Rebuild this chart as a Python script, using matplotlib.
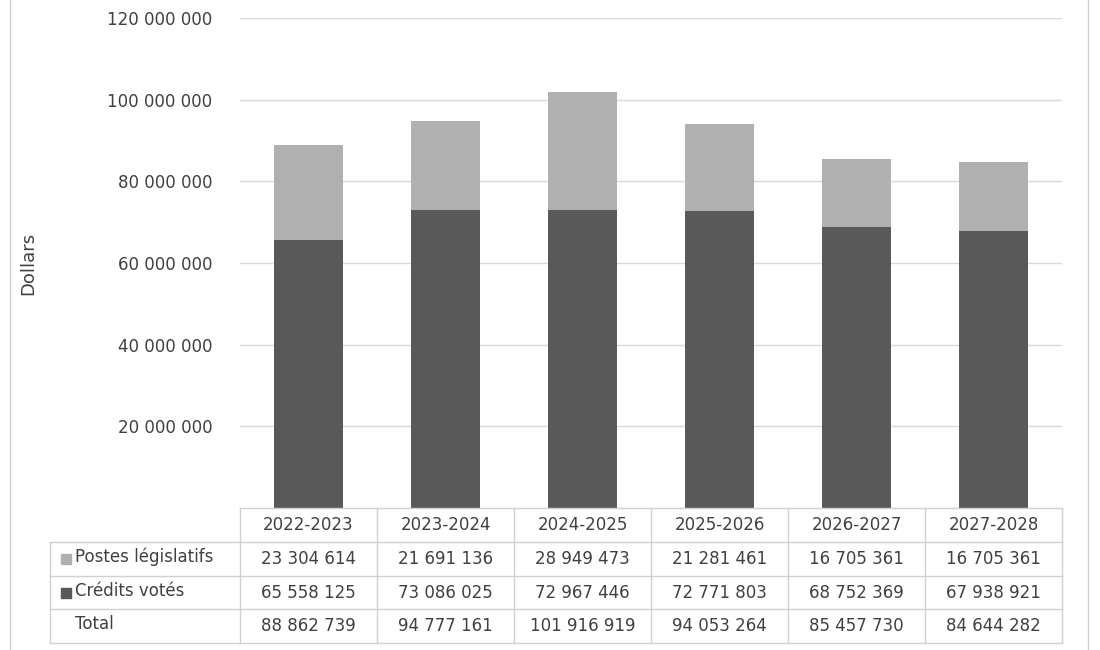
import matplotlib
matplotlib.use("Agg")
import matplotlib.pyplot as plt
from matplotlib.lines import Line2D
from matplotlib.patches import Rectangle
from matplotlib.ticker import FuncFormatter

years = ["2022-2023", "2023-2024", "2024-2025", "2025-2026", "2026-2027", "2027-2028"]
postes = [23304614, 21691136, 28949473, 21281461, 16705361, 16705361]
credits = [65558125, 73086025, 72967446, 72771803, 68752369, 67938921]
totals = [88862739, 94777161, 101916919, 94053264, 85457730, 84644282]

DARK = "#595959"
LIGHT = "#b0b0b0"
W, H = 1100, 650
fig = plt.figure(figsize=(11, 6.5), dpi=100)

def fx(x): return x / W
def fy(y): return 1 - y / H

L, R, T, B = 240, 1062, 18, 508
ax = fig.add_axes([fx(L), fy(B), fx(R) - fx(L), fy(T) - fy(B)])
xs = range(len(years))
ax.bar(xs, credits, width=0.51, color=DARK, zorder=3)
ax.bar(xs, postes, width=0.51, bottom=credits, color=LIGHT, zorder=3)
ax.set_xlim(-0.5, len(years) - 0.5)
ax.set_ylim(0, 120000000)
ax.set_yticks(range(20000000, 120000001, 20000000))
ax.yaxis.set_major_formatter(FuncFormatter(lambda v, p: f"{int(v):,}".replace(",", " ")))
ax.tick_params(axis="y", length=0, labelsize=12, labelcolor="#404040", pad=20)
ax.set_xticks([])
ax.grid(axis="y", color="#d9d9d9", lw=1, zorder=0)
for s in ax.spines.values():
    s.set_visible(False)
ax.set_ylabel("Dollars", fontsize=13, color="#404040", labelpad=50)

# table
rows_y = [508, 542, 576, 609, 643]
colw = (R - L) / 6
lc = "#d0d0d0"
def hline(y, x0, x1):
    fig.add_artist(Line2D([fx(x0), fx(x1)], [fy(y), fy(y)], color=lc, lw=1))
def vline(x, y0, y1):
    fig.add_artist(Line2D([fx(x), fx(x)], [fy(y0), fy(y1)], color=lc, lw=1))
hline(508, L, R)
for y in rows_y[1:]:
    hline(y, 50, R)
for i in range(7):
    vline(L + i * colw, 508, 643)
vline(50, 542, 643)

for i, yr in enumerate(years):
    cx = L + (i + 0.5) * colw
    fig.text(fx(cx), fy(525), yr, ha="center", va="center", fontsize=12, color="#404040")
    for r, vals in enumerate([postes, credits, totals]):
        cy = (rows_y[r + 1] + rows_y[r + 2]) / 2
        fig.text(fx(cx), fy(cy), f"{vals[i]:,}".replace(",", " "), ha="center", va="center",
                 fontsize=12, color="#404040")

labels = [("Postes législatifs", LIGHT), ("Crédits votés", DARK), ("Total", None)]
for r, (lab, col) in enumerate(labels):
    cy = (rows_y[r + 1] + rows_y[r + 2]) / 2
    if col:
        fig.add_artist(Rectangle((fx(61), fy(cy + 5)), fx(10), fy(0) - fy(10), color=col,
                                 transform=fig.transFigure))
    fig.text(fx(75), fy(cy - 2), lab, ha="left", va="center", fontsize=12, color="#404040")

# outer frame
vline(10, 0, 650)
vline(1088, 0, 650)

fig.savefig("out.png", dpi=100)
